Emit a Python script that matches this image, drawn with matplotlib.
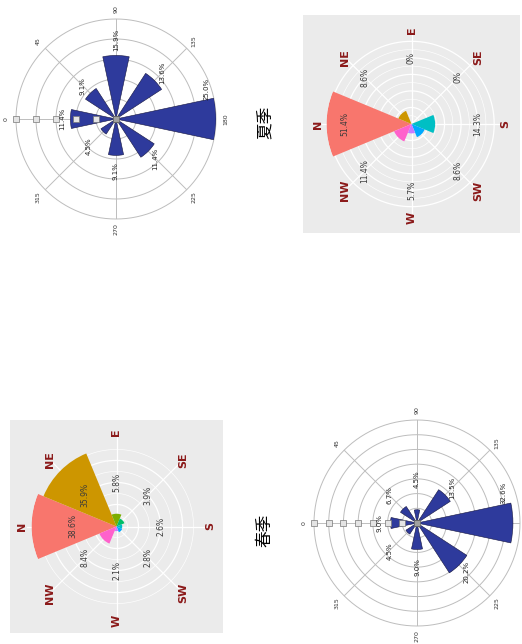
import numpy as np
import matplotlib
matplotlib.use("Agg")
import matplotlib.pyplot as plt

W, H, DPI = 522, 644, 100

# Wind direction categories (compass degrees, clockwise from north)
directions = ["N", "NE", "E", "SE", "S", "SW", "W", "NW"]
compass_deg = [0, 45, 90, 135, 180, 225, 270, 315]
angle_labels = ["0", "45", "90", "135", "180", "225", "270", "315"]

# Share of observations per direction (%), rose-diagram panels
spring_share = [38.6, 35.9, 5.8, 3.9, 2.6, 2.8, 2.1, 8.4]
summer_share = [51.4, 8.6, 0.0, 0.0, 14.3, 8.6, 5.7, 11.4]

# Frequency per direction (%), bar-rose panels
spring_freq = [9.0, 6.7, 4.5, 13.5, 32.6, 20.2, 9.0, 4.5]
summer_freq = [11.4, 9.1, 15.9, 13.6, 25.0, 11.4, 9.1, 4.5]

spring_rings = [5, 10, 15, 20, 25, 30, 35]
summer_rings = [5, 10, 15, 20, 25]

season_labels = ["春季", "夏季"]

hue = ["#F8766D", "#CD9600", "#7CAE00", "#00BE67",
       "#00BFC4", "#00A9FF", "#C77CFF", "#FF61CC"]
bar_blue = "#2E3A9C"

theta = np.deg2rad(compass_deg)

fig = plt.figure(figsize=(W / DPI, H / DPI), dpi=DPI)
fig.patch.set_facecolor("white")


def polar_at(cx, cy, r):
    ax = fig.add_axes([(cx - r) / W, 1 - (cy + r) / H, 2 * r / W, 2 * r / H],
                      projection="polar")
    ax.set_facecolor("none")
    ax.set_theta_zero_location("W")
    ax.set_theta_direction(-1)
    ax.grid(False)
    ax.set_xticks([])
    ax.set_yticks([])
    ax.spines["polar"].set_visible(False)
    return ax


def gg_rose(panel, cx, cy, radius, values, label_r):
    x0, y0, pw, ph = panel
    bg = fig.add_axes([x0 / W, 1 - (y0 + ph) / H, pw / W, ph / H])
    bg.set_facecolor("#EBEBEB")
    bg.set_xticks([])
    bg.set_yticks([])
    for s in bg.spines.values():
        s.set_visible(False)

    ax = polar_at(cx, cy, radius)
    rmax = max(values)
    ax.set_ylim(0, rmax)
    t = np.linspace(0, 2 * np.pi, 361)
    for r in np.arange(5, rmax + 1e-9, 5):
        lw = 0.9 if r % 10 == 0 else 0.45
        ax.plot(t, np.full_like(t, r), color="white", lw=lw, zorder=1)
    for th in theta:
        ax.plot([th, th], [0, rmax * 1.05], color="white", lw=0.9,
                zorder=1, clip_on=False)
    ax.bar(theta, values, width=np.pi / 4, color=hue, linewidth=0, zorder=2)
    for th, v in zip(theta, values):
        txt = "0%" if v == 0 else f"{v:.1f}%"
        ax.text(th, label_r, txt, rotation=90, ha="center", va="center",
                fontsize=5.5, color="#3A3A3A", zorder=4)
    for th, d in zip(theta, directions):
        ax.text(th, rmax * 94 / 85, d, rotation=90, ha="center", va="center",
                fontsize=8, fontweight="bold", color="#8B1A1A",
                clip_on=False, zorder=4)


def origin_rose(cx, cy, radius, values, rings):
    ax = polar_at(cx, cy, radius)
    rmax = rings[-1]
    ax.set_ylim(0, rmax)
    t = np.linspace(0, 2 * np.pi, 361)
    for r in rings:
        ax.plot(t, np.full_like(t, r), color="#BDBDBD", lw=0.7, zorder=1,
                clip_on=False)
    for th in theta:
        ax.plot([th, th], [0, rmax], color="#BDBDBD", lw=0.7, zorder=1)
    ax.bar(theta, values, width=np.deg2rad(24), color=bar_blue,
           edgecolor="#15153F", linewidth=0.4, zorder=3)
    # radial axis tick boxes along the 0-degree direction
    ax.plot(np.zeros(len(rings)), rings, ls="none", marker="s", ms=4.2,
            mfc="#E4E4E4", mec="#777777", mew=0.5, zorder=5, clip_on=False)
    ax.plot([0], [0], ls="none", marker="s", ms=4.2, mfc="#A0A0A0",
            mec="#666666", mew=0.5, zorder=5)
    # angular labels, only those that land inside the page
    lab_r = rmax * 1.1
    for th, lab in zip(theta, angle_labels):
        x_pix = cx - np.cos(th) * radius * 1.1
        if x_pix > W - 8:
            continue
        ax.text(th, lab_r, lab, rotation=90, ha="center", va="center",
                fontsize=4.5, color="#333333", clip_on=False)

    hw, hh, pad = 3.2, 8.0, 3.0
    for th, v in zip(theta, values):
        phi = np.pi - th
        ux, uy = np.cos(phi), np.sin(phi)
        cands = []
        if abs(ux) > 1e-6:
            cands.append(hw / abs(ux))
        if abs(uy) > 1e-6:
            cands.append(hh / abs(uy))
        d = min(cands) + pad
        tip_px = v / rmax * radius
        if tip_px + d * DPI / 72 > radius * 0.97:
            px, py = -uy, ux
            off = (-7 * ux + 22 * px, -7 * uy + 22 * py)
            anchor = v
        else:
            off = (d * ux, d * uy)
            anchor = max(v, 0.28 * rmax)
        ax.annotate(f"{v:.1f}%", xy=(th, anchor), xytext=off,
                    textcoords="offset points", rotation=90,
                    ha="center", va="center", fontsize=5, color="#222222",
                    zorder=6, annotation_clip=False)


# Summer panels
origin_rose(116, 119, 100, summer_freq, summer_rings)
gg_rose((303, 15, 217, 218), 411.5, 124, 85, summer_share, 40)

# Spring panels
gg_rose((10, 420, 213, 213), 116.5, 526.5, 85, spring_share, 20)
origin_rose(417, 523, 103, spring_freq, spring_rings)

cjk = ["Noto Sans CJK SC", "DejaVu Sans"]
fig.text(265 / W, 1 - 530 / H, season_labels[0], rotation=90, ha="center",
         va="center", fontsize=12, family=cjk)
fig.text(265 / W, 1 - 122 / H, season_labels[1], rotation=90, ha="center",
         va="center", fontsize=12, family=cjk)

fig.savefig("out.png", dpi=DPI)
